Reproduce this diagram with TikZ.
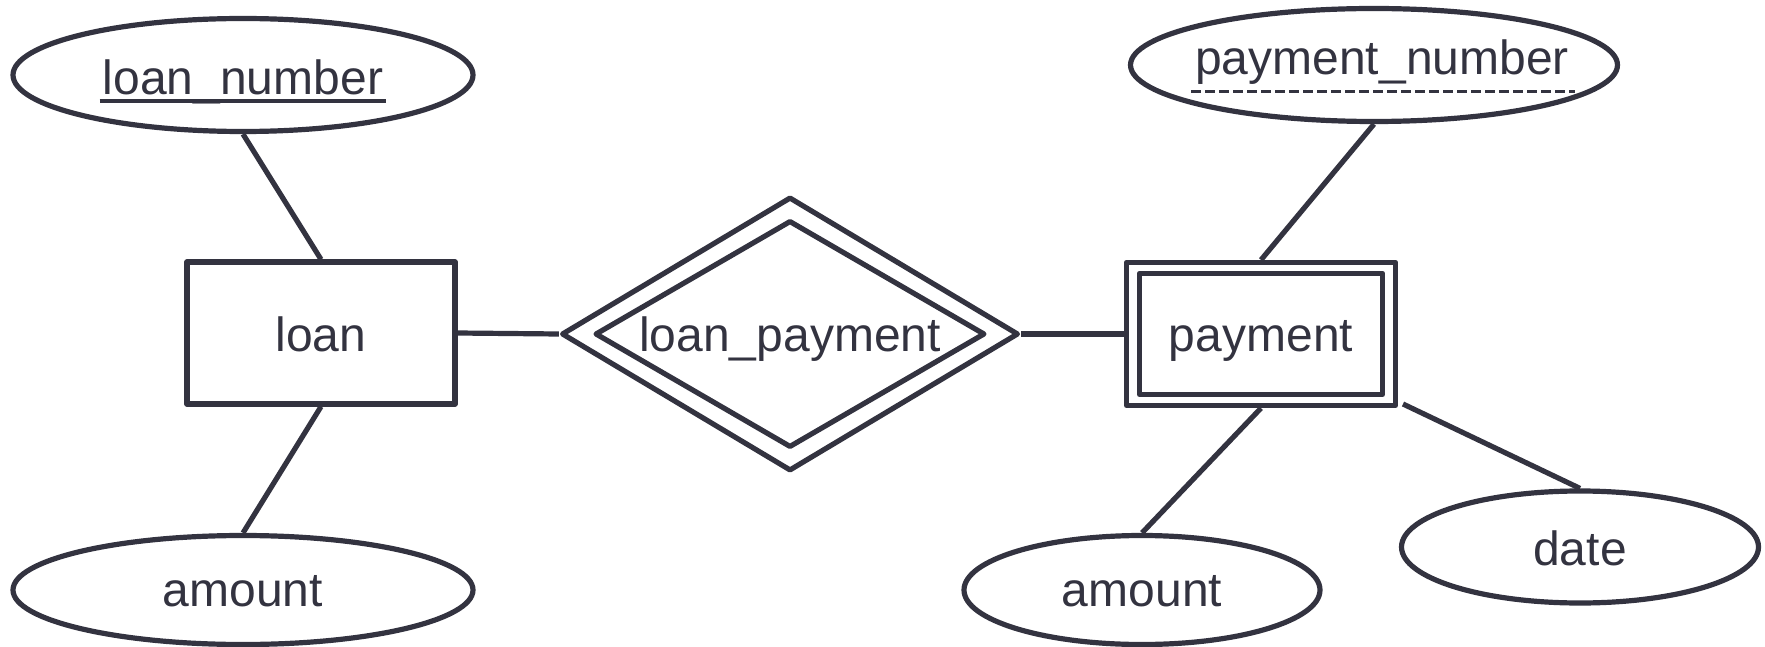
\documentclass[tikz,border=0pt]{standalone}
\usepackage{fontspec}
\setmainfont{Liberation Sans}
\usetikzlibrary{shapes.geometric,calc}
\definecolor{ink}{RGB}{51,51,64}
\tikzset{
  every node/.style={font=\fontsize{48}{58}\selectfont, text=ink},
  base/.style={draw=ink, line width=5.2pt, line join=round},
  attr/.style={base, ellipse, inner sep=0pt},
  ent/.style={base, rectangle, inner sep=0pt},
  rel/.style={base, diamond, inner sep=0pt},
  conn/.style={draw=ink, line width=5.2pt},
  uline/.style={draw=ink, line width=3.3pt},
  dline/.style={draw=ink, line width=3.5pt, dash pattern=on 10pt off 4pt},
  lbl/.style={inner sep=0pt, anchor=base}
}
\begin{document}
\begin{tikzpicture}[x=1pt,y=-1pt]
\path[use as bounding box] (0,0) rectangle (1765,647);

% attributes of loan
\node[attr, minimum width=460pt, minimum height=113pt] (ln) at (243,75) {};
\node[lbl] (lnt) at (243,95) {loan\_number};
\node[attr, minimum width=460pt, minimum height=109pt] (am1) at (243,590) {};
\node[lbl] (am1t) at (243,606) {amount};

% loan entity
\node[ent, minimum width=268pt, minimum height=142pt] (loan) at (321,333) {};
\node[lbl] (loant) at (321,351) {loan};

% relationship
\node[rel, minimum width=457pt, minimum height=274pt] (rel) at (790,334) {};
\node[rel, minimum width=390pt, minimum height=227pt] (relin) at (790,334) {};
\node[lbl] (relt) at (790,351) {loan\_payment};

% payment weak entity
\node[ent, minimum width=269pt, minimum height=143pt] (pay) at (1261,334) {};
\node[ent, minimum width=243pt, minimum height=121pt] (payin) at (1261,334) {};
\node[lbl] (payt) at (1261,351) {payment};

% attributes of payment
\node[attr, minimum width=487pt, minimum height=113pt] (pn) at (1374,65) {};
\node[lbl] (pnt) at (1382,75) {payment\_number};
\node[attr, minimum width=356pt, minimum height=109pt] (am2) at (1142,590) {};
\node[lbl] (am2t) at (1142,606) {amount};
\node[attr, minimum width=357pt, minimum height=112pt] (date) at (1580,547) {};
\node[lbl] (datet) at (1580,565) {date};

% underlines
\draw[uline] ($(lnt.base west)+(-3,6)$) -- ($(lnt.base east)+(3,6)$);
\draw[dline] ($(pnt.base west)+(-4,16.5)$) -- ($(pnt.base east)+(6,16.5)$);

% connectors
\coordinate (payse) at (1403,404);
\draw[conn] (ln.south) -- (loan.north);
\draw[conn] (loan.south) -- (am1.north);
\draw[conn] (loan.east) -- (rel.west);
\draw[conn] (rel.east) -- (pay.west);
\draw[conn] (pn.south) -- (pay.north);
\draw[conn] (pay.south) -- (am2.north);
\draw[conn] (payse) -- (date.north);
\end{tikzpicture}
\end{document}
